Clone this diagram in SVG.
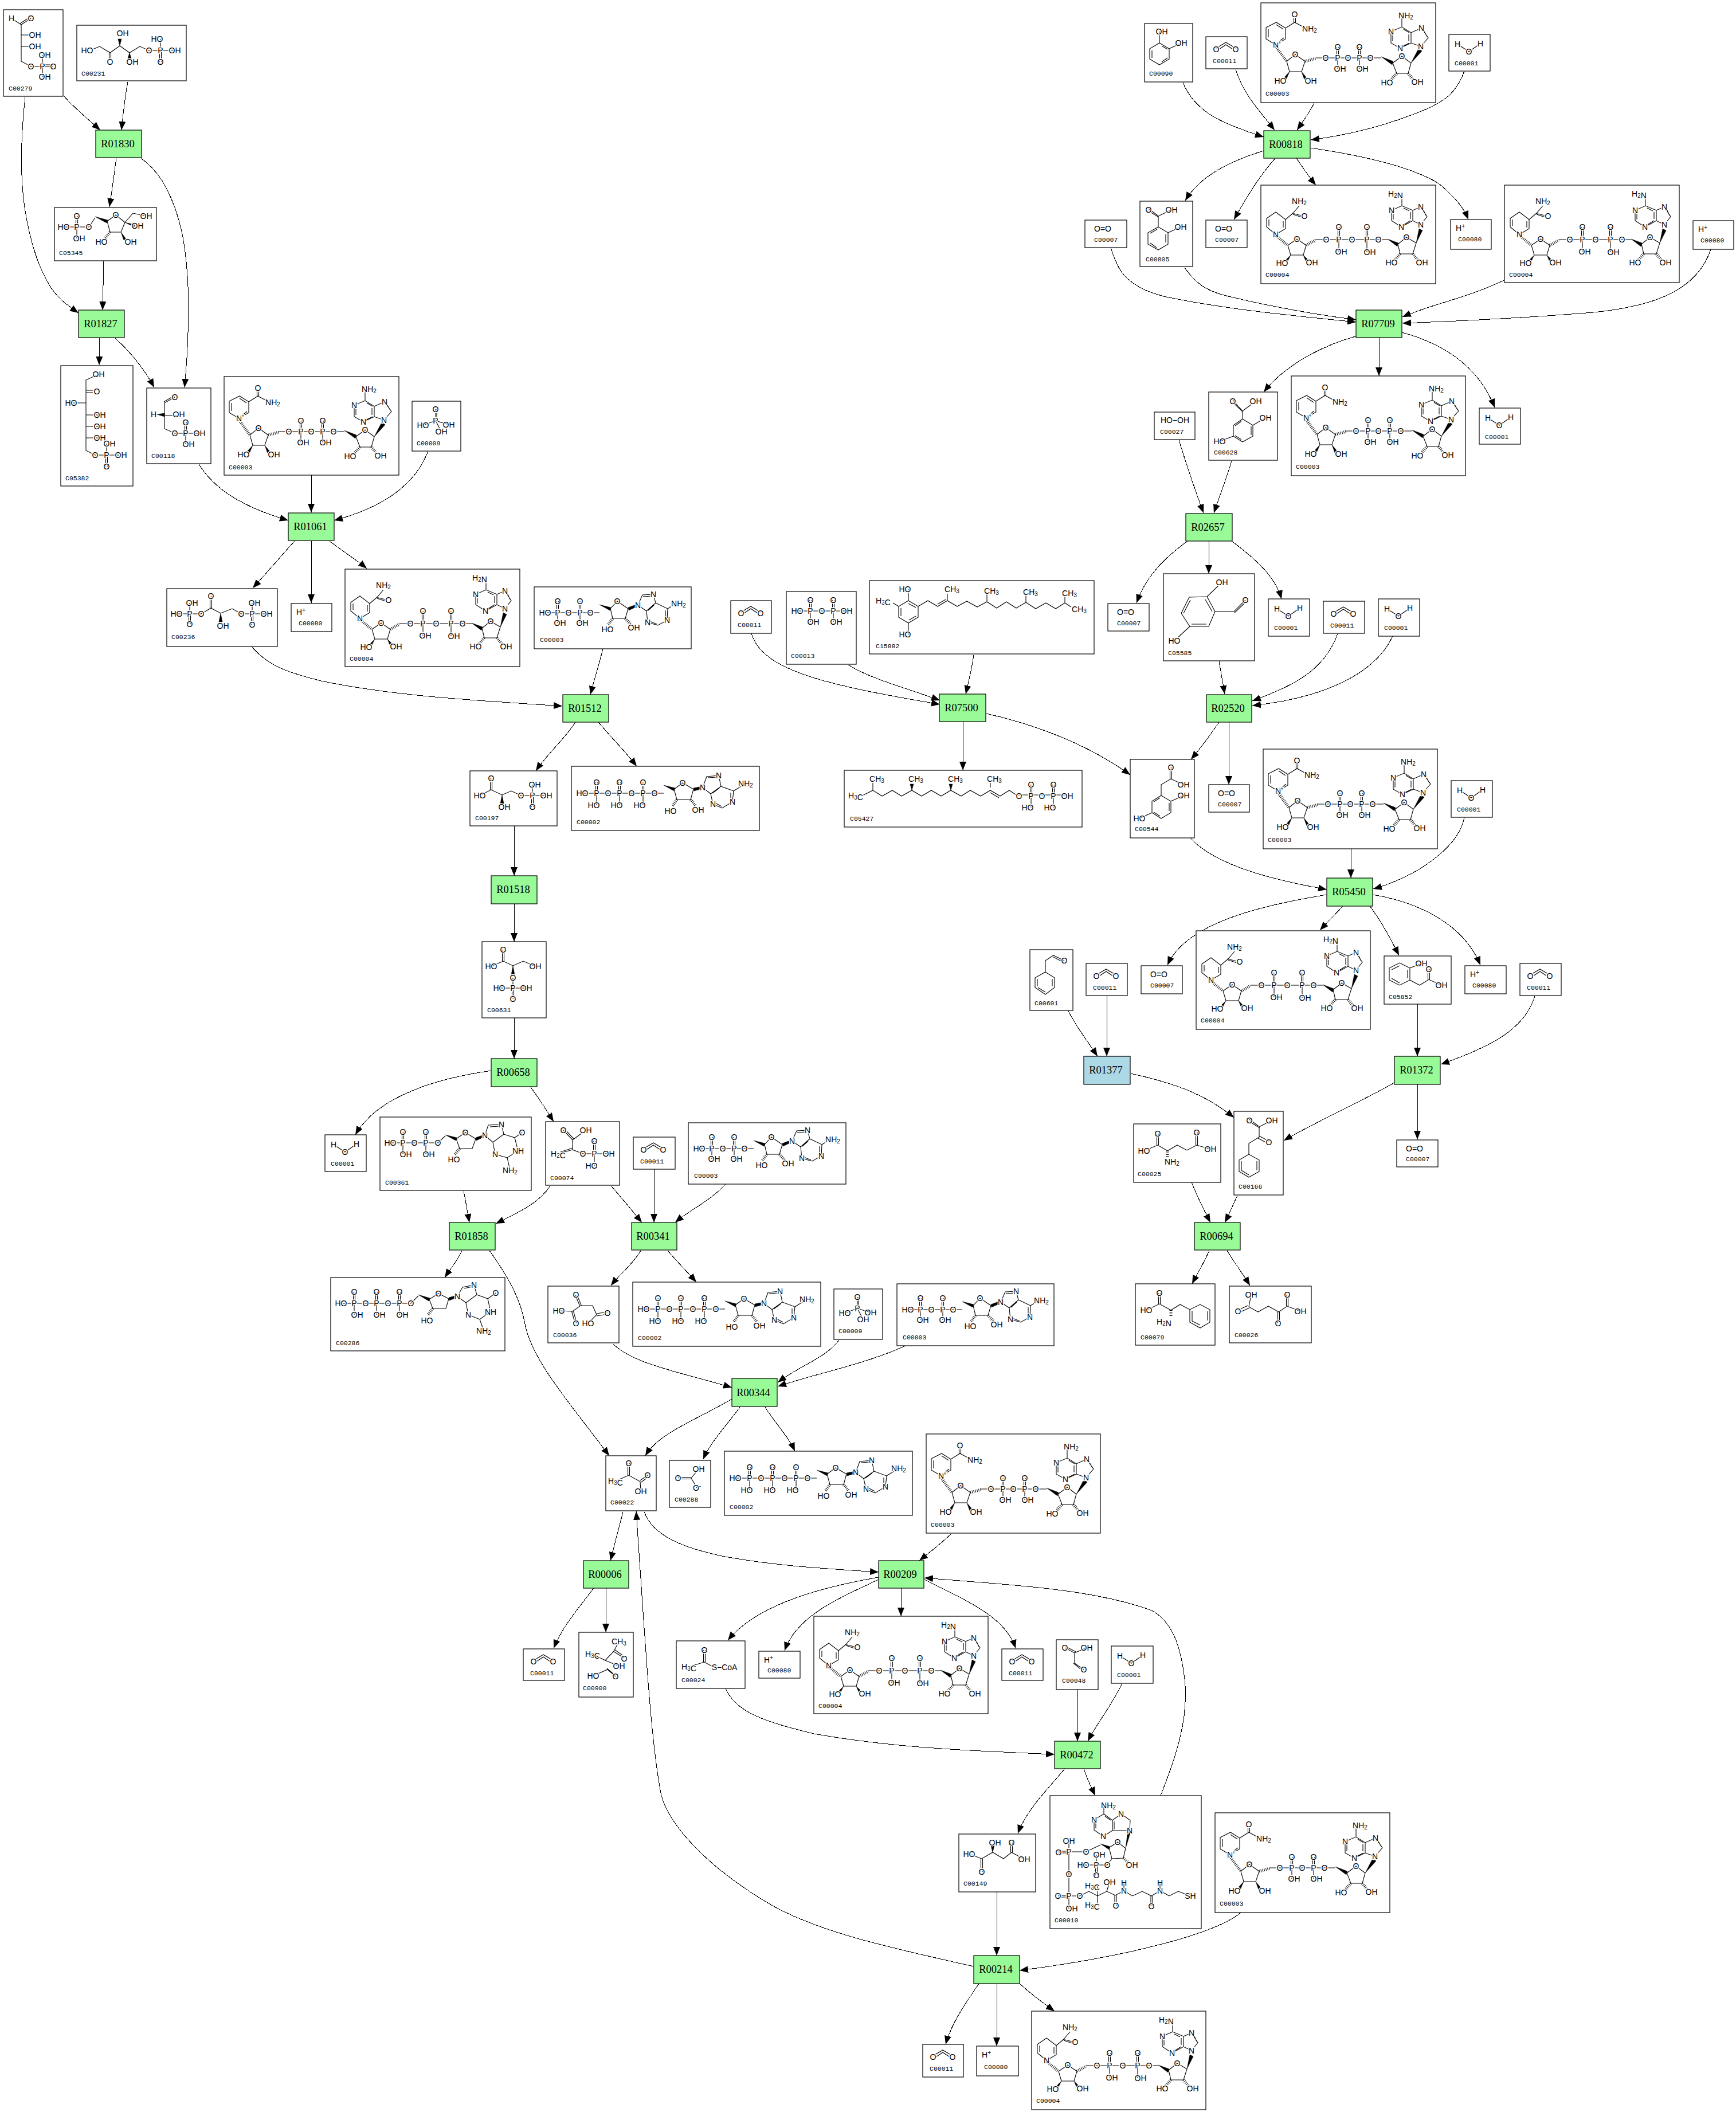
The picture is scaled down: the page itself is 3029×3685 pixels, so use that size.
<svg xmlns="http://www.w3.org/2000/svg" width="3029" height="3685" viewBox="0 0 3029 3685">
<style>
.bg{fill:#fff}
.c{fill:#fff;stroke:#000;stroke-width:1.2}
.rg{fill:#98fb98;stroke:#000;stroke-width:1.2}
.rb{fill:#add8e6;stroke:#000;stroke-width:1.2}
.r{font:18.5px "Liberation Serif",serif;text-anchor:middle;dominant-baseline:central;fill:#000;transform:translate(-1.5px,0)}
.l{font:11.5px "Liberation Mono",monospace;fill:#000}
.m path{fill:none;stroke:#000;stroke-width:1.1}
.m path.w{fill:#000;stroke-width:.5}
.m path.h{stroke-width:5;stroke-dasharray:1 2}
.m text{font:14px "Liberation Sans",sans-serif;text-anchor:middle;dominant-baseline:central;fill:#000;stroke:#fff;stroke-width:3px;paint-order:stroke;stroke-linejoin:round}
.s{font-size:10px;baseline-shift:-3px}
#edges path{fill:none;stroke:#000;stroke-width:1;shape-rendering:crispEdges;marker-end:url(#a)}
</style>
<defs>
<marker id="a" markerUnits="userSpaceOnUse" markerWidth="16" markerHeight="13" refX="15" refY="6" orient="auto"><path d="M0,0L15,6L0,12Z" fill="#000"/></marker>
<g id="nad" class="m"><path d="M9,43L27,34L43,44V63L26,73L9,63ZM13,46V60M27,38L39,46M40,61L31,68M43,44L59,34L72,41M57.5,34V24M60.5,34V24M45,102L60,90L77,102L71,120H50ZM96,96H210M134,96V115M132.5,96V77M135.5,96V77M172,96V115M170.5,96V77M173.5,96V77M230,105L246,93L262,105L257,123H237ZM279,76L292,61L280,44L262,52L246,42L227,50V70L243,79L262,70L279,76M262,52V70M258,55V67M249,46L259,52M230,53V67M284,48L290,59M247,76L259,70M246,42V27"/><path class="h" d="M26,76L45,102M77,102L96,97M237,123L228,133M257,123L265,133"/><path class="w" d="M50,120L40,131L44,134ZM71,120L80,131L76,134ZM210,94L231,102L229,108ZM262,105L275,80L281,84Z"/><text x="59" y="20">O</text><text x="85" y="45">NH<tspan class="s">2</tspan></text><text x="26" y="73">N</text><text x="33" y="69" style="font-size:9px">+</text><text x="60" y="90">O</text><text x="34" y="136">HO</text><text x="87" y="136">OH</text><text x="113" y="96">O</text><text x="134" y="96">P</text><text x="134" y="77">O</text><text x="138" y="115">OH</text><text x="152" y="96">O</text><text x="172" y="96">P</text><text x="172" y="77">O</text><text x="177" y="115">OH</text><text x="191" y="96">O</text><text x="246" y="93">O</text><text x="220" y="139">HO</text><text x="273" y="138">OH</text><text x="279" y="76">N</text><text x="280" y="44">N</text><text x="227" y="50">N</text><text x="243" y="79">N</text><text x="253" y="22">NH<tspan class="s">2</tspan></text></g>
<g id="nadh" class="m"><path d="M10,58L26,47L43,60V76L26,86L10,73ZM14,60V71M39,63V74M43,60L56,49L67,36M54.5,49L74,54M56,51L74,57M47,105L63,94L79,105L74,122H52ZM95,95H221M136,95V116M134.5,95V73M137.5,95V73M185,95V117M183.5,95V73M186.5,95V73M243,120L239,103L254,91L271,101L265,120ZM279,69L290,55L279,38L265,44L246,36L228,44V62L245,73L265,62L279,69M265,44V62M261,47V59M249,40L259,45M231,47V60M283,42L288,53M248,70L261,62M246,36V23"/><path class="h" d="M26,88L47,105M79,105L95,96M243,120L233,131M265,120L274,131"/><path class="w" d="M52,122L43,131L46,134ZM74,122L83,131L79,134ZM221,94L240,101L238,107ZM271,101L276,76L282,79Z"/><text x="67" y="28">NH<tspan class="s">2</tspan></text><text x="76" y="54">O</text><text x="26" y="86">N</text><text x="63" y="94">O</text><text x="37" y="136">HO</text><text x="89" y="135">OH</text><text x="114" y="95">O</text><text x="136" y="95">P</text><text x="136" y="73">O</text><text x="140" y="116">OH</text><text x="159" y="95">O</text><text x="185" y="95">P</text><text x="185" y="73">O</text><text x="190" y="117">OH</text><text x="205" y="95">O</text><text x="254" y="91">O</text><text x="228" y="135">HO</text><text x="281" y="135">OH</text><text x="279" y="69">N</text><text x="279" y="38">N</text><text x="228" y="44">N</text><text x="245" y="73">N</text><text x="235" y="15">H<tspan class="s">2</tspan><tspan dy="3">N</tspan></text></g>
<g id="adp" class="m"><path d="M19,45H114M41,45V63M39.5,45V25M42.5,45V25M80,45V63M78.5,45V25M81.5,45V25M137,55L133,38L145,25L164,38L159,55ZM181,32L189,14L208,13L212,28L196,42L181,32M212,28L233,38L232,58L216,67L198,62L196,42M209,32L199,41M229,41L229,55M202,60L214,65M190,17L205,16M233,38L246,30"/><path class="w" d="M114,31L134,36L132,41ZM164,36L180,30L180,34L165,41Z"/><path class="h" d="M137,55L129,66M159,55L168,65"/><text x="19" y="45">HO</text><text x="41" y="45">P</text><text x="41" y="25">O</text><text x="45" y="63">OH</text><text x="60" y="45">O</text><text x="80" y="45">P</text><text x="80" y="25">O</text><text x="84" y="63">OH</text><text x="98" y="45">O</text><text x="145" y="25">O</text><text x="128" y="74">HO</text><text x="174" y="71">OH</text><text x="181" y="32">N</text><text x="208" y="13">N</text><text x="232" y="58">N</text><text x="198" y="62">N</text><text x="252" y="29">NH<tspan class="s">2</tspan></text></g>
<g id="atp" class="m"><path d="M19,47H161M44,47V68M42.5,47V28M45.5,47V28M84,47V68M82.5,47V28M85.5,47V28M125,47V68M123.5,47V28M126.5,47V28M184,58L179,40L194,29L213,40L208,58ZM229,37L236,18L257,16L261,35L243,48L229,37M261,35L283,43L281,62L263,73L247,66L243,48M258,38L246,47M278,46V59M251,64L262,70M238,20L254,19M283,43L296,35"/><path class="w" d="M161,33L181,38L179,43ZM213,38L228,35L228,39L214,43Z"/><path class="h" d="M184,58L176,70M208,58L217,69"/><text x="19" y="47">HO</text><text x="44" y="47">P</text><text x="44" y="28">O</text><text x="39" y="68">HO</text><text x="64" y="47">O</text><text x="84" y="47">P</text><text x="84" y="28">O</text><text x="79" y="68">HO</text><text x="105" y="47">O</text><text x="125" y="47">P</text><text x="125" y="28">O</text><text x="119" y="68">HO</text><text x="145" y="47">O</text><text x="194" y="29">O</text><text x="173" y="78">HO</text><text x="221" y="76">OH</text><text x="229" y="37">N</text><text x="257" y="16">N</text><text x="281" y="62">N</text><text x="247" y="66">N</text><text x="304" y="30">NH<tspan class="s">2</tspan></text></g>
<g id="co2" class="m"><path d="M18,20L35,10L52,20M20,24L35,14L50,24"/><text x="18" y="22">O</text><text x="52" y="22">O</text></g>
<g id="h2o" class="m"><path d="M15,17L35,30L55,16"/><text x="15" y="17">H</text><text x="35" y="30">O</text><text x="55" y="16">H</text></g>
<g id="o2" class="m"><text x="31" y="15">O=O</text></g>
<g id="hp" class="m"><text x="17" y="15">H<tspan class="s" style="baseline-shift:4px">+</tspan></text></g>
<g id="pi" class="m"><path d="M19,42L41,34L64,41M41,14V34L51,53M43,14V34"/><text x="41" y="14">O</text><text x="41" y="34">P</text><text x="19" y="42">HO</text><text x="64" y="41">OH</text><text x="51" y="53">OH</text></g>
</defs>
<rect class="bg" width="3029" height="3685"/>
<g id="edges">
<path d="M111,167C125,184 150,205 175,227"/><path d="M223,143C218,170 215,195 212,227"/>
<path d="M44,169C36,240 34,320 47,385C58,440 70,470 87,499C100,520 118,533 137,546"/>
<path d="M203,276C199,305 195,335 191,361"/>
<path d="M246,276C265,290 280,308 290,328C315,375 325,430 328,500C330,570 327,620 322,676"/>
<path d="M181,456L179,541"/><path d="M174,590L173,637"/><path d="M201,590C225,612 250,640 269,676"/>
<path d="M347,810C375,855 425,885 503,908"/><path d="M543,829V894"/><path d="M747,787C725,845 670,885 583,908"/>
<path d="M514,944C495,965 465,1000 441,1026"/><path d="M543,944V1052"/><path d="M575,944C595,960 620,975 640,992"/>
<path d="M439,1128C470,1165 510,1175 560,1188C690,1215 830,1222 981,1232"/>
<path d="M1052,1132C1045,1160 1037,1185 1030,1212"/><path d="M1004,1260C985,1290 955,1315 935,1345"/><path d="M1044,1260C1065,1285 1090,1310 1111,1337"/>
<path d="M897,1441V1528"/><path d="M897,1577V1643"/><path d="M897,1776V1847"/>
<path d="M858,1868C770,1880 660,1910 620,1980"/><path d="M925,1896C940,1915 952,1935 966,1957"/>
<path d="M809,2077L819,2133"/><path d="M960,2069C940,2100 905,2115 865,2135"/><path d="M1066,2069C1085,2090 1105,2115 1120,2133"/><path d="M1141,2040V2133"/><path d="M1266,2066C1240,2095 1205,2110 1178,2133"/>
<path d="M806,2182C798,2200 785,2215 776,2229"/>
<path d="M854,2182C885,2225 908,2265 916,2310C928,2375 1000,2455 1063,2540"/>
<path d="M1118,2182C1105,2205 1080,2225 1066,2243"/><path d="M1165,2182C1180,2200 1200,2220 1215,2237"/>
<path d="M1070,2345C1105,2380 1190,2395 1277,2421"/><path d="M1464,2338C1440,2370 1400,2380 1357,2412"/><path d="M1580,2348C1510,2380 1430,2395 1357,2419"/>
<path d="M1277,2441C1210,2480 1150,2500 1126,2540"/><path d="M1291,2455C1270,2485 1240,2515 1227,2546"/><path d="M1335,2455C1350,2480 1375,2505 1387,2532"/>
<path d="M1087,2638L1065,2723"/><path d="M1124,2638C1140,2680 1190,2700 1260,2715C1350,2732 1440,2737 1533,2743"/><path d="M1660,2676C1640,2695 1620,2710 1604,2723"/>
<path d="M1036,2771C1010,2805 980,2840 966,2876"/><path d="M1057,2771V2848"/>
<path d="M1533,2752C1430,2770 1320,2800 1270,2862"/><path d="M1533,2756C1460,2790 1390,2820 1369,2880"/><path d="M1572,2771V2820"/><path d="M1613,2756C1680,2790 1755,2820 1772,2876"/>
<path d="M2025,3133C2050,3070 2075,3000 2067,2930C2060,2870 2045,2830 2010,2810C1900,2770 1750,2765 1613,2753"/>
<path d="M1266,2946C1285,2990 1340,3005 1420,3025C1560,3050 1700,3055 1840,3061"/>
<path d="M1880,2948V3038"/><path d="M1958,2937C1940,2975 1915,3005 1898,3038"/>
<path d="M1858,3086C1825,3125 1790,3160 1776,3199"/><path d="M1891,3086C1897,3105 1905,3120 1911,3133"/><path d="M1739,3301V3412"/>
<path d="M2165,3337C2120,3375 1960,3415 1779,3438"/>
<path d="M1699,3431C1560,3400 1420,3370 1336,3318C1240,3260 1170,3190 1154,3133C1135,3040 1125,2850 1110,2637"/>
<path d="M1708,3461C1685,3495 1660,3530 1650,3567"/><path d="M1739,3461V3570"/><path d="M1779,3461C1800,3480 1820,3495 1840,3509"/>
<path d="M2064,144C2085,195 2130,215 2205,239"/><path d="M2156,121C2170,165 2195,190 2224,227"/><path d="M2293,180C2285,195 2275,210 2263,227"/>
<path d="M2555,124C2540,165 2520,175 2490,190C2430,215 2360,235 2287,244"/>
<path d="M2205,263C2150,280 2095,305 2068,350"/><path d="M2225,276C2195,310 2175,345 2153,383"/><path d="M2262,276C2275,295 2285,310 2296,323"/>
<path d="M2287,258C2400,275 2470,295 2510,320C2535,340 2553,360 2562,383"/>
<path d="M1938,432C1948,465 1960,482 1972,490C1990,505 2010,511 2030,517C2140,540 2250,550 2366,562"/>
<path d="M2067,467C2080,485 2090,495 2103,502C2120,512 2135,515 2156,520C2220,535 2290,548 2366,558"/>
<path d="M2624,489C2560,520 2500,530 2447,553"/>
<path d="M2985,435C2960,510 2880,535 2780,545C2660,555 2550,560 2447,564"/>
<path d="M2368,586C2300,605 2240,640 2205,684"/><path d="M2406,589V656"/><path d="M2446,580C2520,600 2580,640 2608,711"/>
<path d="M2057,768C2070,810 2085,855 2100,895"/><path d="M2149,804C2140,835 2128,865 2118,895"/>
<path d="M2072,944C2030,975 2000,1005 1983,1052"/><path d="M2109,944V1001"/><path d="M2149,944C2190,975 2225,1005 2236,1045"/>
<path d="M2127,1154L2137,1211"/><path d="M2334,1106C2310,1170 2260,1195 2185,1223"/><path d="M2430,1110C2395,1185 2290,1220 2185,1231"/>
<path d="M2127,1260C2110,1285 2095,1305 2078,1325"/><path d="M2144,1260V1369"/>
<path d="M2077,1462C2120,1510 2220,1535 2315,1552"/><path d="M2357,1481V1532"/><path d="M2555,1426C2545,1480 2470,1530 2396,1551"/>
<path d="M2315,1561C2200,1580 2070,1610 2037,1684"/><path d="M2343,1581C2330,1595 2315,1610 2303,1623"/><path d="M2390,1581C2405,1600 2425,1635 2441,1667"/><path d="M2395,1561C2480,1575 2555,1615 2583,1684"/>
<path d="M2473,1752V1843"/><path d="M2678,1738C2660,1800 2590,1830 2514,1857"/><path d="M2433,1889C2370,1925 2300,1955 2240,1990"/><path d="M2473,1892V1988"/>
<path d="M1864,1764C1880,1795 1900,1820 1915,1843"/><path d="M1931,1737V1843"/><path d="M1973,1873C2050,1890 2105,1910 2153,1950"/>
<path d="M2079,2063C2090,2090 2100,2110 2112,2133"/><path d="M2159,2086C2150,2105 2145,2118 2137,2133"/><path d="M2110,2182C2100,2205 2090,2220 2080,2240"/><path d="M2141,2182C2155,2205 2170,2225 2181,2243"/>
<path d="M1311,1105C1330,1170 1440,1195 1640,1229"/><path d="M1480,1160C1520,1185 1580,1200 1640,1222"/><path d="M1699,1143C1695,1170 1690,1190 1685,1211"/><path d="M1680,1259V1344"/><path d="M1721,1245C1810,1265 1900,1300 1972,1352"/>
</g>
<g id="R01830"><rect class="rg" x="167" y="227" width="80" height="48"/><text class="r" x="207" y="251">R01830</text></g>
<g id="R01827"><rect class="rg" x="137" y="541" width="80" height="48"/><text class="r" x="177" y="565">R01827</text></g>
<g id="R01061"><rect class="rg" x="503" y="895" width="80" height="48"/><text class="r" x="543" y="919">R01061</text></g>
<g id="R01512"><rect class="rg" x="982" y="1212" width="80" height="48"/><text class="r" x="1022" y="1236">R01512</text></g>
<g id="R01518"><rect class="rg" x="857" y="1528" width="80" height="49"/><text class="r" x="897" y="1552">R01518</text></g>
<g id="R00658"><rect class="rg" x="857" y="1847" width="80" height="49"/><text class="r" x="897" y="1871">R00658</text></g>
<g id="R01858"><rect class="rg" x="784" y="2133" width="80" height="48"/><text class="r" x="824" y="2157">R01858</text></g>
<g id="R00341"><rect class="rg" x="1102" y="2133" width="79" height="48"/><text class="r" x="1141" y="2157">R00341</text></g>
<g id="R00344"><rect class="rg" x="1277" y="2405" width="79" height="49"/><text class="r" x="1316" y="2430">R00344</text></g>
<g id="R00006"><rect class="rg" x="1018" y="2723" width="79" height="48"/><text class="r" x="1057" y="2747">R00006</text></g>
<g id="R00209"><rect class="rg" x="1533" y="2723" width="79" height="48"/><text class="r" x="1572" y="2747">R00209</text></g>
<g id="R00472"><rect class="rg" x="1840" y="3038" width="80" height="48"/><text class="r" x="1880" y="3062">R00472</text></g>
<g id="R00214"><rect class="rg" x="1699" y="3412" width="80" height="49"/><text class="r" x="1739" y="3436">R00214</text></g>
<g id="R00818"><rect class="rg" x="2205" y="228" width="81" height="48"/><text class="r" x="2245" y="252">R00818</text></g>
<g id="R07709"><rect class="rg" x="2366" y="541" width="80" height="48"/><text class="r" x="2406" y="565">R07709</text></g>
<g id="R02657"><rect class="rg" x="2069" y="896" width="81" height="48"/><text class="r" x="2109" y="920">R02657</text></g>
<g id="R02520"><rect class="rg" x="2105" y="1212" width="79" height="48"/><text class="r" x="2144" y="1236">R02520</text></g>
<g id="R05450"><rect class="rg" x="2315" y="1532" width="80" height="49"/><text class="r" x="2355" y="1556">R05450</text></g>
<g id="R07500"><rect class="rg" x="1639" y="1211" width="81" height="48"/><text class="r" x="1679" y="1235">R07500</text></g>
<g id="R01377"><rect class="rb" x="1891" y="1843" width="81" height="49"/><text class="r" x="1931" y="1867">R01377</text></g>
<g id="R01372"><rect class="rg" x="2433" y="1843" width="80" height="49"/><text class="r" x="2473" y="1867">R01372</text></g>
<g id="R00694"><rect class="rg" x="2084" y="2133" width="80" height="48"/><text class="r" x="2124" y="2157">R00694</text></g>
<g id="C00279"><rect class="c" x="6" y="17" width="104" height="151"/><g class="m" transform="translate(6,17)"><path d="M14,15L31,26V90L48,99H87M48,15L31,26M46,13L29,24M31,44H45M31,64H45M68,99V79M68,99V117M68,96H87"/><text x="14" y="15">H</text><text x="48" y="15">O</text><text x="55" y="44">OH</text><text x="55" y="64">OH</text><text x="48" y="99">O</text><text x="68" y="99">P</text><text x="87" y="99">O</text><text x="72" y="79">OH</text><text x="72" y="117">OH</text></g><text class="l" x="15" y="158">C00279</text></g>
<g id="C00231"><rect class="c" x="134" y="44" width="191" height="97"/><g class="m" transform="translate(134,44)"><path d="M28,42L40,37L58,48L75,36L92,48L110,37L126,44H171M56.5,48V60M59.5,48V60M146,44V24M144.5,44V64M147.5,44V64"/><path class="w" d="M75,36L72,24L78,24ZM92,48L89,58L95,58Z"/><text x="18" y="44">HO</text><text x="58" y="64">O</text><text x="80" y="14">OH</text><text x="97" y="64">OH</text><text x="126" y="44">O</text><text x="146" y="44">P</text><text x="140" y="24">HO</text><text x="146" y="64">O</text><text x="171" y="44">OH</text></g><text class="l" x="142" y="132">C00231</text></g>
<g id="C05345"><rect class="c" x="95" y="362" width="178" height="93"/><g class="m" transform="translate(95,362)"><path d="M16,34H60L71,18M39,34V54M37.5,34V15M40.5,34V15M92,24L107,13L123,26L116,43H97ZM123,26L137,10L160,15"/><path class="w" d="M71,16L93,22L91,27ZM123,26L140,30L139,34ZM116,43L125,55L121,57Z"/><path class="h" d="M97,43L88,54"/><text x="16" y="34">HO</text><text x="39" y="34">P</text><text x="39" y="15">O</text><text x="43" y="54">OH</text><text x="60" y="34">O</text><text x="107" y="13">O</text><text x="160" y="15">OH</text><text x="145" y="32">OH</text><text x="82" y="60">HO</text><text x="133" y="60">OH</text></g><text class="l" x="103" y="445">C05345</text></g>
<g id="C05382"><rect class="c" x="106" y="638" width="126" height="210"/><g class="m" transform="translate(106,638)"><path d="M66,15L44,25V148L60,156H105M44,43H56M44,47H56M18,65H44M44,86H68M44,106H68M44,126H68M80,156V136M78.5,156V176M81.5,156V176"/><text x="66" y="15">OH</text><text x="63" y="45">O</text><text x="18" y="65">HO</text><text x="68" y="86">OH</text><text x="68" y="106">OH</text><text x="68" y="126">OH</text><text x="60" y="156">O</text><text x="80" y="156">P</text><text x="85" y="136">OH</text><text x="105" y="156">OH</text><text x="80" y="176">O</text></g><text class="l" x="114" y="838">C05382</text></g>
<g id="C00118"><rect class="c" x="256" y="677" width="112" height="132"/><g class="m" transform="translate(256,677)"><path d="M49,16L31,26V71L49,79H92M49,13L30,24M31,48H56M68,79V98M66.5,79V60M69.5,79V60"/><path class="w" d="M18,46L31,44L31,50Z"/><text x="49" y="16">O</text><text x="12" y="46">H</text><text x="56" y="46">OH</text><text x="49" y="79">O</text><text x="68" y="79">P</text><text x="68" y="60">O</text><text x="92" y="79">OH</text><text x="73" y="98">OH</text></g><text class="l" x="264" y="799">C00118</text></g>
<g id="C00003_1"><rect class="c" x="391" y="657" width="305" height="172"/><use href="#nad" x="391" y="657"/><text class="l" x="399" y="819">C00003</text></g>
<g id="C00009_1"><rect class="c" x="719" y="700" width="85" height="87"/><use href="#pi" x="719" y="700"/><text class="l" x="727" y="777">C00009</text></g>
<g id="C00236"><rect class="c" x="291" y="1027" width="193" height="101"/><g class="m" transform="translate(291,1027)"><path d="M17,44H60L77,34L94,43L114,35L130,44H174M40,44V25M38.5,44V62M41.5,44V62M75.5,34V13M78.5,34V13M149,44V25M147.5,44V63M150.5,44V63"/><path class="w" d="M94,43L91,58L97,58Z"/><text x="17" y="44">HO</text><text x="40" y="44">P</text><text x="44" y="25">OH</text><text x="40" y="62">O</text><text x="60" y="44">O</text><text x="77" y="13">O</text><text x="98" y="65">OH</text><text x="130" y="44">O</text><text x="149" y="44">P</text><text x="153" y="25">OH</text><text x="149" y="63">O</text><text x="174" y="44">OH</text></g><text class="l" x="299" y="1115">C00236</text></g>
<g id="C00080_1"><rect class="c" x="508" y="1053" width="71" height="49"/><use href="#hp" x="508" y="1053"/><text class="l" x="521" y="1091">C00080</text></g>
<g id="C00004_1"><rect class="c" x="602" y="993" width="305" height="170"/><use href="#nadh" x="602" y="993"/><text class="l" x="610" y="1153">C00004</text></g>
<g id="C00003_2"><rect class="c" x="932" y="1024" width="274" height="108"/><use href="#adp" x="932" y="1024"/><text class="l" x="942" y="1120">C00003</text></g>
<g id="C00197"><rect class="c" x="820" y="1345" width="152" height="96"/><g class="m" transform="translate(820,1345)"><path d="M17,43L37,33L56,42L72,35L89,43H133M35.5,33V13M38.5,33V13M109,43V24M107.5,43V63M110.5,43V63"/><path class="w" d="M56,42L53,57L59,57Z"/><text x="17" y="43">HO</text><text x="37" y="13">O</text><text x="60" y="63">OH</text><text x="89" y="43">O</text><text x="109" y="43">P</text><text x="113" y="24">OH</text><text x="109" y="63">O</text><text x="133" y="43">OH</text></g><text class="l" x="829" y="1431">C00197</text></g>
<g id="C00002_1"><rect class="c" x="997" y="1337" width="328" height="112"/><use href="#atp" x="997" y="1337"/><text class="l" x="1006" y="1438">C00002</text></g>
<g id="C00631"><rect class="c" x="841" y="1643" width="112" height="133"/><g class="m" transform="translate(841,1643)"><path d="M16,43L37,34L54,42L72,34L93,43M35.5,34V14M38.5,34V14M30,81H77M54,63V81M52.5,81V100M55.5,81V100"/><path class="w" d="M54,42L51,58L57,58Z"/><text x="16" y="43">HO</text><text x="37" y="14">O</text><text x="93" y="43">OH</text><text x="54" y="63">O</text><text x="54" y="81">P</text><text x="30" y="81">HO</text><text x="77" y="81">OH</text><text x="54" y="100">O</text></g><text class="l" x="850" y="1766">C00631</text></g>
<g id="C00001_1"><rect class="c" x="567" y="1980" width="72" height="64"/><use href="#h2o" x="567" y="1980"/><text class="l" x="577" y="2034">C00001</text></g>
<g id="C00361"><rect class="c" x="663" y="1949" width="264" height="128"/><g class="m" transform="translate(663,1949)"><path d="M18,45H101L114,33M40,45V65M38.5,45V26M41.5,45V26M80,45V65M78.5,45V26M81.5,45V26M139,55L133,38L149,27L167,38L161,55ZM183,32L189,14L212,13L216,30L197,44L183,32M216,30L235,36L241,59L222,71L201,65L197,44M235,36L248,27M222,71L227,93M192,17L209,16"/><path class="w" d="M114,31L134,36L132,41ZM167,36L181,31L181,35L168,41Z"/><path class="h" d="M139,55L130,66"/><text x="18" y="45">HO</text><text x="40" y="45">P</text><text x="40" y="26">O</text><text x="45" y="65">OH</text><text x="60" y="45">O</text><text x="80" y="45">P</text><text x="80" y="26">O</text><text x="85" y="65">OH</text><text x="101" y="45">O</text><text x="149" y="27">O</text><text x="129" y="74">HO</text><text x="183" y="32">N</text><text x="212" y="13">N</text><text x="248" y="27">O</text><text x="241" y="59">NH</text><text x="201" y="65">N</text><text x="227" y="93">NH<tspan class="s">2</tspan></text></g><text class="l" x="672" y="2067">C00361</text></g>
<g id="C00074"><rect class="c" x="952" y="1957" width="129" height="111"/><g class="m" transform="translate(952,1957)"><path d="M31,15L47,32V49L65,56H110M33,13L49,30M70,15L47,32M47,49L22,56M47,46L26,53M85,56V77M83.5,56V34M86.5,56V34"/><text x="31" y="15">O</text><text x="70" y="15">OH</text><text x="22" y="56">H<tspan class="s">2</tspan><tspan dy="3">C</tspan></text><text x="65" y="56">O</text><text x="85" y="56">P</text><text x="85" y="34">O</text><text x="110" y="56">OH</text><text x="80" y="77">HO</text></g><text class="l" x="960" y="2059">C00074</text></g>
<g id="C00011_1"><rect class="c" x="1105" y="1984" width="73" height="56"/><use href="#co2" x="1105" y="1984"/><text class="l" x="1117" y="2030">C00011</text></g>
<g id="C00003_3"><rect class="c" x="1201" y="1959" width="275" height="107"/><use href="#adp" x="1201" y="1959"/><text class="l" x="1211" y="2055">C00003</text></g>
<g id="C00286"><rect class="c" x="577" y="2229" width="304" height="128"/><g class="m" transform="translate(577,2229)"><path d="M18,45H140L153,32M41,45V65M39.5,45V25M42.5,45V25M80,45V65M78.5,45V25M81.5,45V25M120,45V65M118.5,45V25M121.5,45V25M178,54L172,38L188,28L206,37L201,54ZM221,33L230,17L250,13L255,30L236,44L221,33M255,30L274,37L279,60L260,73L240,65L236,44M274,37L288,27M260,73L267,93M233,19L247,16"/><path class="w" d="M153,30L173,36L171,41ZM206,35L220,31L220,35L207,40Z"/><path class="h" d="M178,54L169,66"/><text x="18" y="45">HO</text><text x="41" y="45">P</text><text x="41" y="25">O</text><text x="46" y="65">OH</text><text x="61" y="45">O</text><text x="80" y="45">P</text><text x="80" y="25">O</text><text x="85" y="65">OH</text><text x="100" y="45">O</text><text x="120" y="45">P</text><text x="120" y="25">O</text><text x="125" y="65">OH</text><text x="140" y="45">O</text><text x="188" y="28">O</text><text x="168" y="75">HO</text><text x="221" y="33">N</text><text x="250" y="13">N</text><text x="288" y="27">O</text><text x="279" y="60">NH</text><text x="240" y="65">N</text><text x="267" y="93">NH<tspan class="s">2</tspan></text></g><text class="l" x="586" y="2347">C00286</text></g>
<g id="C00036"><rect class="c" x="956" y="2244" width="124" height="99"/><g class="m" transform="translate(956,2244)"><path d="M19,43L43,44L57,34H78L85,50L70,65M41.5,44L47.5,65M44.5,44L50.5,65M55.5,34L47.5,15M58.5,34L50.5,15M85,48L104,45M85,52L104,49"/><text x="49" y="15">O</text><text x="19" y="43">HO</text><text x="49" y="65">O</text><text x="70" y="65">HO</text><text x="104" y="47">O</text></g><text class="l" x="965" y="2333">C00036</text></g>
<g id="C00002_2"><rect class="c" x="1104" y="2237" width="328" height="112"/><use href="#atp" x="1104" y="2237"/><text class="l" x="1113" y="2338">C00002</text></g>
<g id="C00009_2"><rect class="c" x="1455" y="2249" width="85" height="88"/><use href="#pi" x="1455" y="2249"/><text class="l" x="1463" y="2326">C00009</text></g>
<g id="C00003_4"><rect class="c" x="1565" y="2240" width="274" height="108"/><use href="#adp" x="1565" y="2240"/><text class="l" x="1575" y="2337">C00003</text></g>
<g id="C00022"><rect class="c" x="1057" y="2540" width="88" height="96"/><g class="m" transform="translate(1057,2540)"><path d="M17,44L40,34L60,45L61,62M38.5,34V13M41.5,34V13M60,43L73,34M62,46L74,37"/><text x="40" y="13">O</text><text x="17" y="44">H<tspan class="s">3</tspan><tspan dy="3">C</tspan></text><text x="73" y="34">O</text><text x="61" y="62">OH</text></g><text class="l" x="1065" y="2625">C00022</text></g>
<g id="C00288"><rect class="c" x="1168" y="2548" width="72" height="82"/><g class="m" transform="translate(1168,2548)"><path d="M51,15L38,31L48,48M38,29.500H15M38,32.500H15"/><text x="51" y="15">OH</text><text x="15" y="31">O</text><text x="48" y="48">O<tspan class="s" style="baseline-shift:4px">-</tspan></text></g><text class="l" x="1177" y="2620">C00288</text></g>
<g id="C00002_3"><rect class="c" x="1264" y="2532" width="328" height="112"/><use href="#atp" x="1264" y="2532"/><text class="l" x="1273" y="2633">C00002</text></g>
<g id="C00003_5"><rect class="c" x="1616" y="2502" width="304" height="173"/><use href="#nad" x="1616" y="2502"/><text class="l" x="1624" y="2664">C00003</text></g>
<g id="C00011_2"><rect class="c" x="913" y="2877" width="72" height="55"/><use href="#co2" x="913" y="2877"/><text class="l" x="925" y="2923">C00011</text></g>
<g id="C00900"><rect class="c" x="1010" y="2848" width="95" height="113"/><g class="m" transform="translate(1010,2848)"><path d="M70,16L61,33L46,49L24,38M60,33L79,45M62,30L80,43M46,49L70,59M25,76L50,65L64,77M49,63L63,75"/><text x="70" y="16">CH<tspan class="s">3</tspan></text><text x="79" y="46">O</text><text x="24" y="38">H<tspan class="s">3</tspan><tspan dy="3">C</tspan></text><text x="70" y="59">OH</text><text x="25" y="76">HO</text><text x="64" y="77">O</text></g><text class="l" x="1017" y="2949">C00900</text></g>
<g id="C00024"><rect class="c" x="1180" y="2863" width="120" height="83"/><g class="m" transform="translate(1180,2863)"><path d="M22,45L49,37L66,46M47.5,37V16M50.5,37V16"/><text x="49" y="16">O</text><text x="22" y="45">H<tspan class="s">3</tspan><tspan dy="3">C</tspan></text><text x="84" y="46">S−CoA</text></g><text class="l" x="1189" y="2935">C00024</text></g>
<g id="C00080_2"><rect class="c" x="1324" y="2881" width="72" height="47"/><use href="#hp" x="1324" y="2881"/><text class="l" x="1339" y="2918">C00080</text></g>
<g id="C00004_2"><rect class="c" x="1420" y="2820" width="304" height="170"/><use href="#nadh" x="1420" y="2820"/><text class="l" x="1428" y="2980">C00004</text></g>
<g id="C00011_3"><rect class="c" x="1748" y="2877" width="72" height="55"/><use href="#co2" x="1748" y="2877"/><text class="l" x="1760" y="2923">C00011</text></g>
<g id="C00048"><rect class="c" x="1843" y="2861" width="73" height="87"/><g class="m" transform="translate(1843,2861)"><path d="M15,14L32,23V41L48,52M17,12L34,21M53,14L32,23M30,41L46,54"/><text x="15" y="14">O</text><text x="53" y="14">OH</text><text x="48" y="52">O</text></g><text class="l" x="1853" y="2936">C00048</text></g>
<g id="C00001_2"><rect class="c" x="1939" y="2872" width="73" height="65"/><use href="#h2o" x="1939" y="2872"/><text class="l" x="1949" y="2926">C00001</text></g>
<g id="C00149"><rect class="c" x="1673" y="3200" width="134" height="101"/><g class="m" transform="translate(1673,3200)"><path d="M18,35L40,43L59,32L78,43L92,32L114,44M38.500,43V66M41.500,43V66M90.500,32V15M93.500,32V15"/><path class="w" d="M59,32L56,20L62,20Z"/><text x="18" y="35">HO</text><text x="40" y="66">O</text><text x="63" y="15">OH</text><text x="92" y="15">O</text><text x="114" y="44">OH</text></g><text class="l" x="1681" y="3290">C00149</text></g>
<g id="C00010"><rect class="c" x="1832" y="3133" width="264" height="232"/><g class="m" transform="translate(1832,3133)"><path d="M94,32V20M94,32L77,42V60L93,71L109,61V43L94,32M109,43L124,32L140,43L139,61L109,61M112,45V59M80,45V57M96,36L106,43M108,110L103,91L118,81L132,92L128,109ZM63,98L88,86M33,98H63M33,98V79M15,97H33M15,100H33M33,98V175M14,174H33M14,177H33M33,175V197M33,175H52L68,167L83,175L99,167L114,174L129,166L144,175L161,167L177,175L192,166L208,175L224,167L245,175M83,175V157M83,175V191M99,167L104,151M113,174V192M116,174V192M176,175V193M179,175V193M129,166V152M192,166V152M108,110L100,121H58M81,121V103M79.5,121V139M82.5,121V139"/><path class="w" d="M88,84L105,89L103,94ZM132,92L136,60L141,62Z"/><path class="h" d="M128,109L138,118"/><text x="102" y="17">NH<tspan class="s">2</tspan></text><text x="124" y="32">N</text><text x="139" y="61">N</text><text x="77" y="42">N</text><text x="93" y="71">N</text><text x="118" y="81">O</text><text x="63" y="98">O</text><text x="33" y="98">P</text><text x="33" y="79">OH</text><text x="15" y="99">O</text><text x="33" y="137">O</text><text x="33" y="175">P</text><text x="14" y="175">O</text><text x="38" y="197">OH</text><text x="52" y="175">O</text><text x="74" y="157">H<tspan class="s">3</tspan><tspan dy="3">C</tspan></text><text x="74" y="191">H<tspan class="s">3</tspan><tspan dy="3">C</tspan></text><text x="104" y="151">OH</text><text x="115" y="192">O</text><text x="129" y="166">N</text><text x="129" y="152">H</text><text x="177" y="193">O</text><text x="192" y="166">N</text><text x="192" y="152">H</text><text x="245" y="175">SH</text><text x="100" y="121">O</text><text x="81" y="121">P</text><text x="86" y="103">OH</text><text x="58" y="121">HO</text><text x="81" y="139">O</text><text x="143" y="121">OH</text></g><text class="l" x="1840" y="3354">C00010</text></g>
<g id="C00003_6"><rect class="c" x="2120" y="3163" width="305" height="174"/><use href="#nad" x="2120" y="3163"/><text class="l" x="2128" y="3325">C00003</text></g>
<g id="C00011_4"><rect class="c" x="1610" y="3567" width="71" height="57"/><use href="#co2" x="1610" y="3567"/><text class="l" x="1622" y="3613">C00011</text></g>
<g id="C00080_3"><rect class="c" x="1704" y="3570" width="73" height="52"/><use href="#hp" x="1704" y="3570"/><text class="l" x="1717" y="3610">C00080</text></g>
<g id="C00004_3"><rect class="c" x="1800" y="3509" width="304" height="172"/><use href="#nadh" x="1800" y="3509"/><text class="l" x="1808" y="3669">C00004</text></g>
<g id="C00090"><rect class="c" x="1997" y="41" width="84" height="102"/><g class="m" transform="translate(1997,41)"><path d="M26,34L43,44V62L26,72L9,62V44ZM30,39L40,45M40,60L30,67M13,47V60M26,34V14M43,44L64,34"/><text x="30" y="14">OH</text><text x="64" y="34">OH</text></g><text class="l" x="2005" y="132">C00090</text></g>
<g id="C00011_5"><rect class="c" x="2104" y="64" width="72" height="56"/><use href="#co2" x="2104" y="64"/><text class="l" x="2116" y="110">C00011</text></g>
<g id="C00003_7"><rect class="c" x="2200" y="5" width="305" height="174"/><use href="#nad" x="2200" y="5"/><text class="l" x="2208" y="167">C00003</text></g>
<g id="C00001_3"><rect class="c" x="2528" y="60" width="72" height="64"/><use href="#h2o" x="2528" y="60"/><text class="l" x="2538" y="114">C00001</text></g>
<g id="C00805"><rect class="c" x="1989" y="351" width="92" height="114"/><g class="m" transform="translate(1989,351)"><path d="M32,45L49,55V75L32,85L14,75V55ZM30,49L18,56M45,58V72M29,81L18,73M32,45V26L55,15M33,28L15,17M31,25L15,13M49,55L71,45"/><text x="15" y="15">O</text><text x="55" y="15">OH</text><text x="71" y="45">OH</text></g><text class="l" x="1999" y="456">C00805</text></g>
<g id="C00007_1"><rect class="c" x="2104" y="384" width="72" height="48"/><use href="#o2" x="2104" y="384"/><text class="l" x="2120" y="422">C00007</text></g>
<g id="C00004_4"><rect class="c" x="2200" y="323" width="305" height="172"/><use href="#nadh" x="2200" y="323"/><text class="l" x="2208" y="483">C00004</text></g>
<g id="C00080_4"><rect class="c" x="2531" y="383" width="71" height="52"/><use href="#hp" x="2531" y="383"/><text class="l" x="2544" y="421">C00080</text></g>
<g id="C00007_2"><rect class="c" x="1893" y="384" width="73" height="48"/><use href="#o2" x="1893" y="384"/><text class="l" x="1909" y="422">C00007</text></g>
<g id="C00004_5"><rect class="c" x="2625" y="323" width="305" height="170"/><use href="#nadh" x="2625" y="323"/><text class="l" x="2633" y="483">C00004</text></g>
<g id="C00080_5"><rect class="c" x="2954" y="385" width="71" height="50"/><use href="#hp" x="2954" y="385"/><text class="l" x="2967" y="423">C00080</text></g>
<g id="C00628"><rect class="c" x="2109" y="684" width="120" height="119"/><g class="m" transform="translate(2109,684)"><path d="M59,47L77,58V77L59,87L43,77V58ZM57,51L46,59M74,60V75M57,83L46,76M59,47V33L82,16M60,35L42,18M58,32L42,14M77,58L99,45M43,77L19,86"/><text x="42" y="16">O</text><text x="82" y="16">OH</text><text x="99" y="45">OH</text><text x="19" y="86">HO</text></g><text class="l" x="2118" y="793">C00628</text></g>
<g id="C00003_8"><rect class="c" x="2253" y="656" width="304" height="174"/><use href="#nad" x="2253" y="656"/><text class="l" x="2261" y="818">C00003</text></g>
<g id="C00001_4"><rect class="c" x="2581" y="712" width="72" height="63"/><use href="#h2o" x="2581" y="712"/><text class="l" x="2591" y="766">C00001</text></g>
<g id="C00027"><rect class="c" x="2014" y="719" width="71" height="48"/><g class="m" transform="translate(2014,719)"><text x="36" y="14">HO−OH</text></g><text class="l" x="2024" y="757">C00027</text></g>
<g id="C00007_3"><rect class="c" x="1933" y="1053" width="72" height="48"/><use href="#o2" x="1933" y="1053"/><text class="l" x="1949" y="1091">C00007</text></g>
<g id="C05585"><rect class="c" x="2030" y="1001" width="159" height="152"/><g class="m" transform="translate(2030,1001)"><path d="M76,40L90,66L79,92H46L31,69L45,41ZM73,45L85,66M75,88H49M35,69L47,46M76,40L102,15M90,66H123L143,46M124,68L143,50M46,92L19,117"/><text x="102" y="15">OH</text><text x="143" y="46">O</text><text x="19" y="117">HO</text></g><text class="l" x="2038" y="1143">C05585</text></g>
<g id="C00001_5"><rect class="c" x="2213" y="1045" width="72" height="65"/><use href="#h2o" x="2213" y="1045"/><text class="l" x="2223" y="1099">C00001</text></g>
<g id="C00011_6"><rect class="c" x="2309" y="1049" width="72" height="56"/><use href="#co2" x="2309" y="1049"/><text class="l" x="2321" y="1095">C00011</text></g>
<g id="C00001_6"><rect class="c" x="2405" y="1045" width="72" height="65"/><use href="#h2o" x="2405" y="1045"/><text class="l" x="2415" y="1099">C00001</text></g>
<g id="C00007_4"><rect class="c" x="2109" y="1369" width="71" height="48"/><use href="#o2" x="2109" y="1369"/><text class="l" x="2125" y="1407">C00007</text></g>
<g id="C00544"><rect class="c" x="1972" y="1325" width="112" height="137"/><g class="m" transform="translate(1972,1325)"><path d="M54,63L71,73V93L54,103L38,93V73ZM52,67L41,74M68,76V90M52,99L41,92M54,63V44L71,34L93,44M69.500,34V14M72.500,34V14M71,73L93,63M38,93L16,103"/><text x="71" y="14">O</text><text x="93" y="44">OH</text><text x="93" y="63">OH</text><text x="16" y="103">HO</text></g><text class="l" x="1980" y="1450">C00544</text></g>
<g id="C00003_9"><rect class="c" x="2204" y="1307" width="304" height="174"/><use href="#nad" x="2204" y="1307"/><text class="l" x="2212" y="1469">C00003</text></g>
<g id="C00001_7"><rect class="c" x="2532" y="1362" width="72" height="64"/><use href="#h2o" x="2532" y="1362"/><text class="l" x="2542" y="1416">C00001</text></g>
<g id="C00011_7"><rect class="c" x="1275" y="1048" width="71" height="57"/><use href="#co2" x="1275" y="1048"/><text class="l" x="1287" y="1094">C00011</text></g>
<g id="C00013"><rect class="c" x="1372" y="1032" width="122" height="127"/><g class="m" transform="translate(1372,1032)"><path d="M19,34H105M42,34V53M40.5,34V15M43.5,34V15M82,34V53M80.5,34V15M83.5,34V15"/><text x="19" y="34">HO</text><text x="42" y="34">P</text><text x="42" y="15">O</text><text x="47" y="53">OH</text><text x="62" y="34">O</text><text x="82" y="34">P</text><text x="82" y="15">O</text><text x="87" y="53">OH</text><text x="105" y="34">OH</text></g><text class="l" x="1380" y="1148">C00013</text></g>
<g id="C15882"><rect class="c" x="1517" y="1013" width="392" height="128"/><g class="m" transform="translate(1517,1013)"><path d="M68,35L85,45V64L68,74L51,64V45ZM68,40L81,47M81,62L69,69M55,48V62M68,35V15M68,74V94M51,45L41,39M85,45L102,35L119,45L136,35L153,45L170,36L188,46L205,37L222,48L239,37L256,48L273,38L290,49L308,39L325,49L341,39L352,46M119,41L133,33M136,35V23M205,37V24M273,38V26M341,39V28"/><text x="62" y="15">HO</text><text x="24" y="35">H<tspan class="s">3</tspan><tspan dy="3">C</tspan></text><text x="62" y="94">HO</text><text x="144" y="15">CH<tspan class="s">3</tspan></text><text x="213" y="18">CH<tspan class="s">3</tspan></text><text x="281" y="20">CH<tspan class="s">3</tspan></text><text x="349" y="22">CH<tspan class="s">3</tspan></text><text x="366" y="50">CH<tspan class="s">3</tspan></text></g><text class="l" x="1528" y="1131">C15882</text></g>
<g id="C05427"><rect class="c" x="1473" y="1344" width="415" height="99"/><g class="m" transform="translate(1473,1344)"><path d="M32,44L50,35L66,45L84,35L100,45L118,35L135,45L152,35L169,45L186,35L204,45L220,35L238,45L255,35L272,45L288,35L300,43H389M50,35V22M255,30V22M255,39L270,48M326,45V65M324.500,45V25M327.500,45V25M365,45V65M363.500,45V25M366.500,45V25"/><path class="w" d="M118,35L115,24L121,24ZM186,35L183,24L189,24Z"/><text x="20" y="44">H<tspan class="s">3</tspan><tspan dy="3">C</tspan></text><text x="57" y="15">CH<tspan class="s">3</tspan></text><text x="125" y="15">CH<tspan class="s">3</tspan></text><text x="194" y="15">CH<tspan class="s">3</tspan></text><text x="262" y="15">CH<tspan class="s">3</tspan></text><text x="305" y="45">O</text><text x="326" y="45">P</text><text x="326" y="25">O</text><text x="320" y="65">HO</text><text x="345" y="45">O</text><text x="365" y="45">P</text><text x="365" y="25">O</text><text x="359" y="65">HO</text><text x="389" y="45">OH</text></g><text class="l" x="1483" y="1432">C05427</text></g>
<g id="C00601"><rect class="c" x="1797" y="1657" width="75" height="106"/><g class="m" transform="translate(1797,1657)"><path d="M27,39L43,49V66L27,78L9,66V49ZM39,51V64M13,51V64M27,74L14,66M27,39V19L41,10L60,19M41,13L57,21"/><text x="60" y="19">O</text></g><text class="l" x="1805" y="1754">C00601</text></g>
<g id="C00011_8"><rect class="c" x="1895" y="1681" width="72" height="56"/><use href="#co2" x="1895" y="1681"/><text class="l" x="1907" y="1727">C00011</text></g>
<g id="C00004_6"><rect class="c" x="2087" y="1624" width="304" height="172"/><use href="#nadh" x="2087" y="1624"/><text class="l" x="2095" y="1784">C00004</text></g>
<g id="C00007_5"><rect class="c" x="1991" y="1685" width="72" height="49"/><use href="#o2" x="1991" y="1685"/><text class="l" x="2007" y="1723">C00007</text></g>
<g id="C05852"><rect class="c" x="2415" y="1668" width="117" height="84"/><g class="m" transform="translate(2415,1668)"><path d="M27,12L45,21V42L27,51L9,42V21ZM27,17L13,24M41,24V39M27,47L13,39M45,21L65,13M45,42L62,51L78,41L100,51M76.500,41V23M79.500,41V23"/><text x="65" y="13">OH</text><text x="78" y="23">O</text><text x="100" y="51">OH</text></g><text class="l" x="2423" y="1743">C05852</text></g>
<g id="C00080_6"><rect class="c" x="2556" y="1685" width="72" height="49"/><use href="#hp" x="2556" y="1685"/><text class="l" x="2569" y="1723">C00080</text></g>
<g id="C00011_9"><rect class="c" x="2652" y="1681" width="72" height="56"/><use href="#co2" x="2652" y="1681"/><text class="l" x="2664" y="1727">C00011</text></g>
<g id="C00007_6"><rect class="c" x="2437" y="1989" width="72" height="47"/><use href="#o2" x="2437" y="1989"/><text class="l" x="2453" y="2026">C00007</text></g>
<g id="C00025"><rect class="c" x="1978" y="1961" width="152" height="102"/><g class="m" transform="translate(1978,1961)"><path d="M18,47L42,37L59,47L76,37L93,46L110,37L134,44M40.500,37V17M43.500,37V17M108.500,37V15M111.500,37V15"/><path class="h" d="M59,47V58"/><text x="42" y="17">O</text><text x="18" y="47">HO</text><text x="67" y="66">NH<tspan class="s">2</tspan></text><text x="110" y="15">O</text><text x="134" y="44">OH</text></g><text class="l" x="1985" y="2052">C00025</text></g>
<g id="C00166"><rect class="c" x="2153" y="1939" width="86" height="146"/><g class="m" transform="translate(2153,1939)"><path d="M66,16L44,27V45L26,56V75L44,85V105L26,115L9,105V85L26,75M45,29L27,18M43,26L27,14M44,43L61,52M42,47L59,56M40,87V103M13,87V103M26,111L13,103"/><text x="27" y="16">O</text><text x="66" y="16">OH</text><text x="61" y="54">O</text></g><text class="l" x="2161" y="2074">C00166</text></g>
<g id="C00079"><rect class="c" x="1981" y="2240" width="139" height="107"/><g class="m" transform="translate(1981,2240)"><path d="M19,46L42,35L62,46L78,36L95,45L113,36L130,45V67L113,77L95,67V45M40.500,35V16M43.500,35V16M99,47V65M126,48V64M113,72L99,65"/><path class="h" d="M62,46V58"/><text x="42" y="16">O</text><text x="19" y="46">HO</text><text x="50" y="66">H<tspan class="s">2</tspan><tspan dy="3">N</tspan></text></g><text class="l" x="1990" y="2337">C00079</text></g>
<g id="C00026"><rect class="c" x="2145" y="2244" width="143" height="99"/><g class="m" transform="translate(2145,2244)"><path d="M38,15L34,36L50,45L68,35L86,45L101,35L124,44M32,34L15,42M35,38L17,46M84.500,45V65M87.500,45V65M99.500,35V15M102.500,35V15"/><text x="38" y="15">OH</text><text x="15" y="44">O</text><text x="85" y="65">O</text><text x="101" y="15">O</text><text x="124" y="44">OH</text></g><text class="l" x="2154" y="2333">C00026</text></g>
</svg>
